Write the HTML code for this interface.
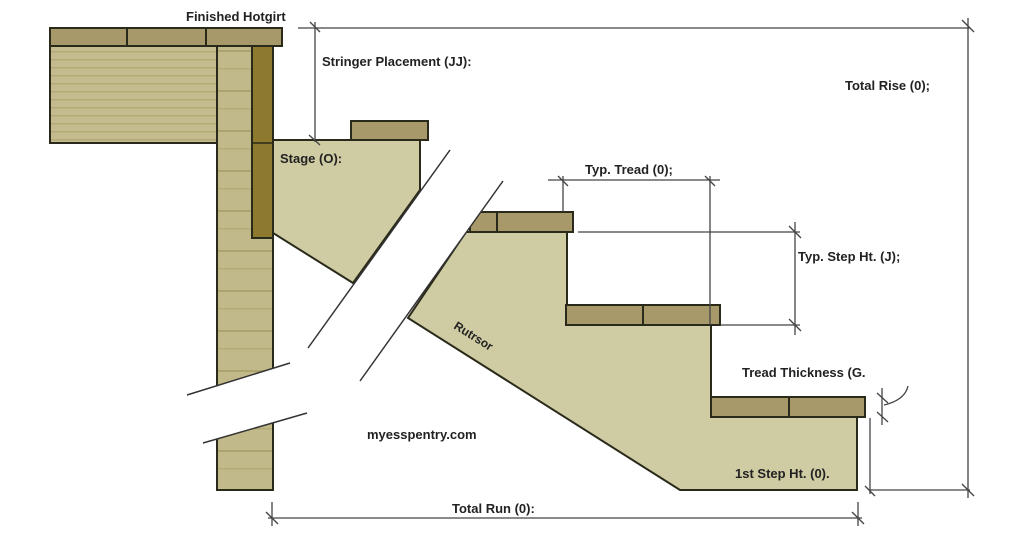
<!DOCTYPE html>
<html><head><meta charset="utf-8"><style>
html,body{margin:0;padding:0;background:#fff;}
svg{display:block;}
text{font-family:"Liberation Sans",sans-serif;font-weight:bold;fill:#222;}
</style></head><body>
<svg width="1024" height="538" viewBox="0 0 1024 538" xmlns="http://www.w3.org/2000/svg">
<defs>
<pattern id="grain" width="60" height="8" patternUnits="userSpaceOnUse">
<rect width="60" height="8" fill="#c4bc8e"/>
<rect y="3" width="60" height="1.5" fill="#b3aa78"/>
</pattern>
<pattern id="vgrain" width="8" height="40" patternUnits="userSpaceOnUse">
<rect width="8" height="40" fill="#c2b98a"/>
<rect y="10" width="8" height="2" fill="#ada36e"/>
<rect y="28" width="8" height="1.5" fill="#b5ab78"/>
</pattern>
</defs>
<!-- deck beam -->
<rect x="50" y="46" width="167" height="97" fill="url(#grain)" stroke="#2a2a1a" stroke-width="2"/>
<!-- post -->
<rect x="217" y="46" width="56" height="444" fill="url(#vgrain)" stroke="#2a2a1a" stroke-width="2"/>
<!-- dark stringer strip -->
<rect x="252" y="46" width="21" height="192" fill="#8e7a2e" stroke="#2a2a1a" stroke-width="2"/>
<line x1="252" y1="143" x2="273" y2="143" stroke="#2a2a1a" stroke-width="1.5"/>
<!-- top boards -->
<g fill="#a8996a" stroke="#2a2a1a" stroke-width="2">
<rect x="50" y="28" width="77" height="18"/>
<rect x="127" y="28" width="79" height="18"/>
<rect x="206" y="28" width="76" height="18"/>
</g>
<!-- upper stringer piece -->
<polygon points="273,140 420,140 420,190 353,283 273,233" fill="#cfcca4" stroke="#2a2a1a" stroke-width="2"/>
<rect x="351" y="121" width="77" height="19" fill="#a8996a" stroke="#2a2a1a" stroke-width="2"/>
<!-- main stringer -->
<polygon points="466,232 567,232 567,325 711,325 711,417 857,417 857,490 680,490 408,318" fill="#cfcca4" stroke="#2a2a1a" stroke-width="2"/>
<g fill="#a8996a" stroke="#2a2a1a" stroke-width="2">
<rect x="470" y="212" width="27" height="20"/>
<rect x="497" y="212" width="76" height="20"/>
<rect x="566" y="305" width="77" height="20"/>
<rect x="643" y="305" width="77" height="20"/>
<rect x="711" y="397" width="78" height="20"/>
<rect x="789" y="397" width="76" height="20"/>
</g>
<!-- white cut bands -->
<polygon points="450,150 503,181 360,381 307,413 203,443 187,395 290,363 308,348" fill="#fff"/>
<g stroke="#333" stroke-width="1.5" fill="none">
<line x1="450" y1="150" x2="308" y2="348"/>
<line x1="503" y1="181" x2="360" y2="381"/>
<line x1="187" y1="395" x2="290" y2="363"/>
<line x1="203" y1="443" x2="307" y2="413"/>
</g>
<!-- dimension lines -->
<g stroke="#444" stroke-width="1.3" fill="none">
<line x1="298" y1="28" x2="970" y2="28"/>
<line x1="315" y1="22" x2="315" y2="142"/>
<line x1="310" y1="22" x2="320" y2="32"/><line x1="309" y1="135" x2="320" y2="145"/>
<line x1="968" y1="18" x2="968" y2="498"/>
<line x1="962" y1="20" x2="974" y2="32"/>
<line x1="962" y1="484" x2="974" y2="496"/>
<line x1="548" y1="180" x2="720" y2="180"/>
<line x1="563" y1="176" x2="563" y2="212"/>
<line x1="710" y1="176" x2="710" y2="325"/>
<line x1="558" y1="176" x2="568" y2="186"/><line x1="705" y1="176" x2="715" y2="186"/>
<line x1="578" y1="232" x2="800" y2="232"/>
<line x1="720" y1="325" x2="800" y2="325"/>
<line x1="795" y1="222" x2="795" y2="335"/>
<line x1="789" y1="226" x2="801" y2="238"/><line x1="789" y1="319" x2="801" y2="331"/>
<line x1="870" y1="418" x2="870" y2="494"/>
<line x1="870" y1="490" x2="970" y2="490"/>
<line x1="865" y1="486" x2="875" y2="496"/>
<line x1="882" y1="388" x2="882" y2="425"/>
<line x1="877" y1="393" x2="888" y2="403"/><line x1="877" y1="412" x2="888" y2="422"/>
<path d="M884 405 Q905 400 908 386"/>
<line x1="268" y1="518" x2="862" y2="518"/>
<line x1="272" y1="502" x2="272" y2="526"/>
<line x1="858" y1="502" x2="858" y2="526"/>
<line x1="266" y1="512" x2="278" y2="524"/><line x1="852" y1="512" x2="864" y2="524"/>
</g>
<!-- labels -->
<text x="186" y="21" font-size="13">Finished Hotgirt</text>
<text x="322" y="66" font-size="13">Stringer Placement (JJ):</text>
<text x="845" y="90" font-size="13">Total Rise (0);</text>
<text x="280" y="163" font-size="13">Stage (O):</text>
<text x="585" y="174" font-size="13">Typ. Tread (0);</text>
<text x="798" y="261" font-size="13">Typ. Step Ht. (J);</text>
<text x="742" y="377" font-size="13">Tread Thickness (G.</text>
<text x="735" y="478" font-size="13">1st Step Ht. (0).</text>
<text x="452" y="513" font-size="13">Total Run (0):</text>
<text x="367" y="439" font-size="13">myesspentry.com</text>
<text x="453" y="328" font-size="12" transform="rotate(32 453 328)">Rutrsor</text>
</svg>
</body></html>
